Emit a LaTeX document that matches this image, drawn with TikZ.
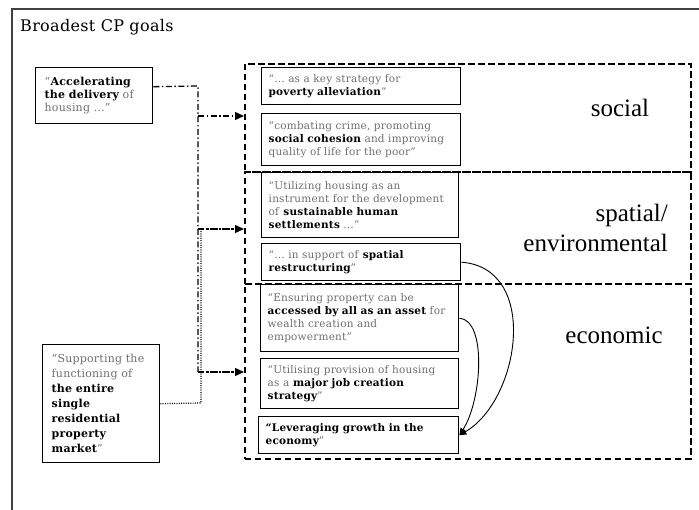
\documentclass[tikz,border=0pt]{standalone}
\usepackage{fontspec}
\setmainfont{DejaVu Serif}[LetterSpace=2]
\newfontfamily\labfont{Liberation Serif}
\usetikzlibrary{arrows.meta,calc}
\definecolor{tgray}{HTML}{6E6E6E}
\newcommand{\kw}[1]{\textbf{\color{black}#1}}
\begin{document}
\begin{tikzpicture}[x=1pt,y=-1pt,
  frameline/.style={line width=1.6pt, draw=black!75},
  catbox/.style={draw, line width=1.6pt, dash pattern=on 6.5pt off 3.5pt, anchor=north west, inner sep=0pt},
  ibox/.style={draw, line width=1.4pt, anchor=north west, inner xsep=7pt, inner ysep=1pt, align=left, font=\fontsize{10.5}{13}\selectfont, text=tgray},
  lbox/.style={ibox, inner xsep=9pt, font=\fontsize{11}{15}\selectfont},
  ddline/.style={line width=1.3pt, dash pattern=on 6pt off 2.5pt on 1.5pt off 2.5pt},
  dotline/.style={line width=1.2pt, dash pattern=on 1pt off 1.3pt},
  tip/.style={-{Triangle[length=9pt,width=8pt]}},
  curvetip/.style={-{Triangle[length=7pt,width=6pt]}, line width=0.9pt},
  biglab/.style={font=\labfont\fontsize{25}{30}\selectfont, inner sep=0pt}
]
\useasboundingbox (0,0) rectangle (699,510);
% outer frame
\draw[frameline] (12,510) -- (12,9) -- (699,9);
\node[font=\fontsize{16}{18}\selectfont, anchor=west, inner sep=0pt] (title) at (20,27) {Broadest CP goals};

% category boxes
\node[catbox, minimum width=446pt, minimum height=108pt] (soc) at (244,63) {};
\node[catbox, minimum width=446pt, minimum height=112pt] (spa) at (244,171) {};
\node[catbox, minimum width=446pt, minimum height=175pt] (eco) at (244,283) {};

\node[biglab] (ls) at (620,108) {social};
\node[biglab, align=right, anchor=east] (lsp) at (668,228) {spatial/\\environmental};
\node[biglab] (le) at (614,335) {economic};

% inner boxes
\node[ibox, text width=185pt, minimum height=37pt] (b1) at (261,67) {“… as a key strategy for\\\kw{poverty alleviation}”};
\node[ibox, text width=185pt, minimum height=52pt] (b2) at (261,113) {“combating crime, promoting\\\kw{social cohesion} and improving\\quality of life for the poor”};
\node[ibox, text width=183pt, minimum height=65pt] (b3) at (261,172) {“Utilizing housing as an\\instrument for the development\\of \kw{sustainable human}\\\kw{settlements} …”};
\node[ibox, text width=185pt, minimum height=37pt] (b4) at (261,243) {“… in support of \kw{spatial}\\\kw{restructuring}”};
\node[ibox, text width=184pt, minimum height=67pt] (b5) at (260,284) {“Ensuring property can be\\\kw{accessed by all as an asset} for\\wealth creation and\\empowerment”};
\node[ibox, text width=184pt, minimum height=50pt] (b6) at (260,358) {“Utilising provision of housing\\as a \kw{major job creation}\\\kw{strategy}”};
\node[ibox, text width=186pt, minimum height=37pt] (b7) at (258,416) {\kw{“Leveraging growth in the}\\\kw{economy}”};

% left boxes
\node[lbox, text width=99pt, minimum height=56pt, font=\fontsize{11}{13}\selectfont] (A) at (35,67) {“\kw{Accelerating}\\\kw{the delivery} of\\housing …”};
\node[lbox, text width=99pt, minimum height=118pt] (B) at (42,344) {“Supporting the\\functioning of\\\kw{the entire}\\\kw{single}\\\kw{residential}\\\kw{property}\\\kw{market}”};

% connectors
\coordinate (ja) at (198,86);
\coordinate (ja1) at (198,116);
\coordinate (ja2) at (198,229);
\coordinate (ja3) at (198,372);
\coordinate (jb) at (201,403);
\coordinate (jb2) at (201,229);
\coordinate (jb3) at (201,372);

\draw[ddline] ([yshift=9pt]A.east) -- (ja) -- (ja3);
\draw[dotline] (B.east) -- (jb) -- (jb2);
\draw[ddline, tip] (ja1) -- (ja1 -| soc.west);
\draw[ddline, tip] (ja2) -- (ja2 -| spa.west);
\draw[ddline, tip] (ja3) -- (ja3 -| eco.west);
\draw[dotline] (jb2) -- ($(jb2 -| spa.west)+(-8,0)$);
\draw[dotline] (jb3) -- ($(jb3 -| eco.west)+(-8,0)$);

% curved arrows
\draw[curvetip] (b4.east) .. controls (540,268) and (520,400) .. (b7.east);
\draw[curvetip] (b5.east) .. controls (487,320) and (482,400) .. (b7.east);
\end{tikzpicture}
\end{document}
